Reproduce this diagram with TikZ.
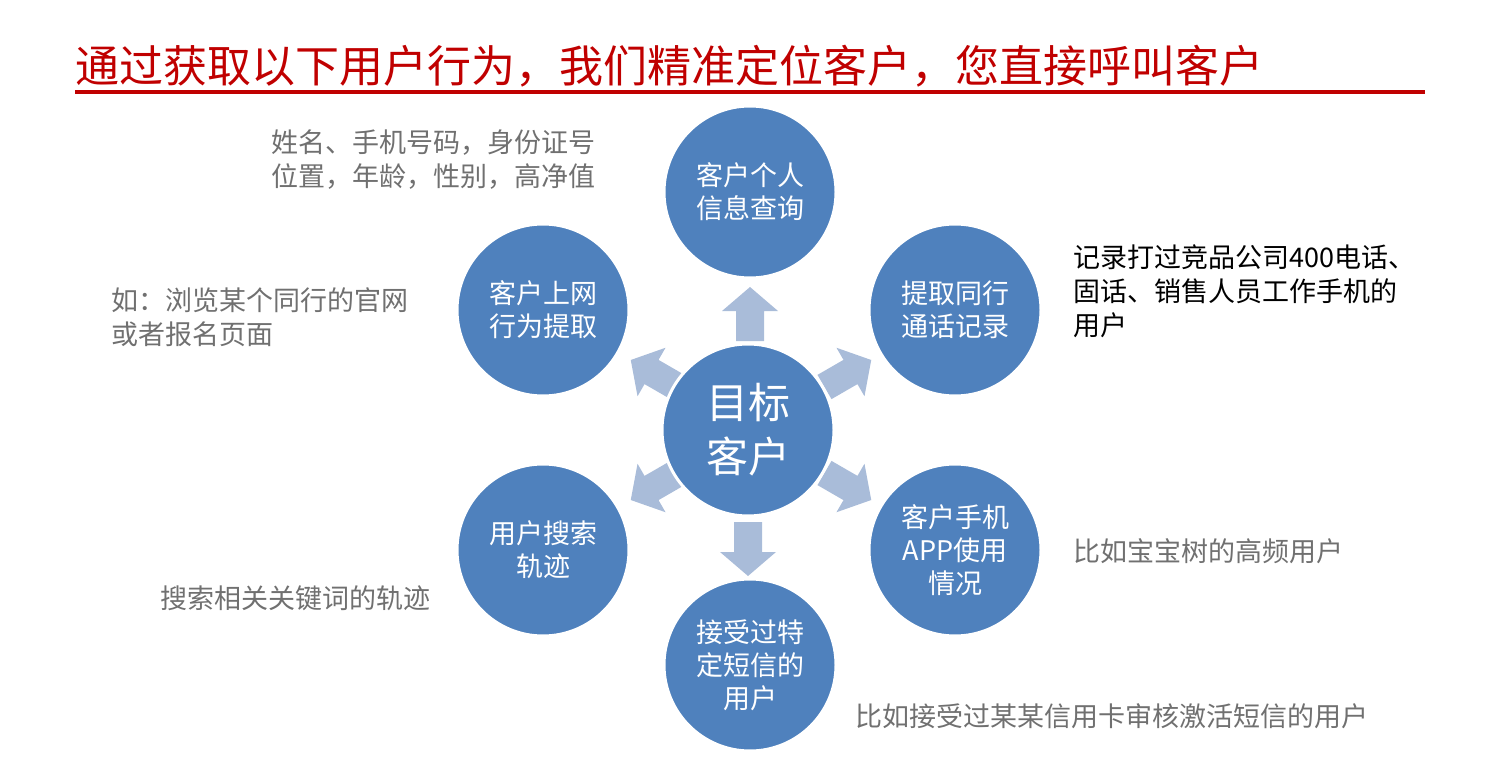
\documentclass[tikz,border=0pt]{standalone}
\usepackage{fontspec}
\setmainfont{Noto Sans CJK SC}
\definecolor{ballblue}{HTML}{4F81BD}
\definecolor{arrblue}{HTML}{A9BCD9}
\definecolor{titlered}{HTML}{C00000}
\definecolor{notegray}{HTML}{707070}
\newcommand{\blockarrow}[3]{% x, y, angle
  \fill[arrblue, shift={(#1,#2)}, rotate=#3] (-26,-14) -- (4,-14) -- (4,-28) -- (28,0) -- (4,28) -- (4,14) -- (-26,14) -- cycle;}
\tikzset{
  ball/.style={circle, draw=white, line width=3pt, fill=ballblue, minimum size=172pt, text=white, font=\fontsize{27}{33}\selectfont, align=center},
  note/.style={anchor=west, text=notegray, font=\fontsize{27}{34}\selectfont, align=left},
  blacknote/.style={note, text=black}
}
\begin{document}
\begin{tikzpicture}[x=1pt, y=-1pt]
	\useasboundingbox (0,0) rectangle (1500,778);
	\node[anchor=west, text=titlered, font=\fontsize{44}{48}\selectfont] (title) at (72,66) {通过获取以下用户行为，我们精准定位客户，您直接呼叫客户};
	\draw[titlered, line width=4pt] (75,92) -- (1425,92);
	% arrows around the centre
	\blockarrow{750}{315}{90}
	\blockarrow{748}{548}{-90}
	\blockarrow{655}{374}{150}
	\blockarrow{847}{374}{30}
	\blockarrow{655}{486}{-150}
	\blockarrow{847}{486}{-30}
	% circles
	\node[ball, font=\fontsize{42}{54}\selectfont] (target) at (748,430) {目标\\客户};
	\node[ball] (personal) at (750,192) {客户个人\\信息查询};
	\node[ball] (online) at (543,310) {客户上网\\行为提取};
	\node[ball] (calls) at (955,310) {提取同行\\通话记录};
	\node[ball] (search) at (543,550) {用户搜索\\轨迹};
	\node[ball] (app) at (955,550) {客户手机\\APP使用\\情况};
	\node[ball] (sms) at (750,665) {接受过特\\定短信的\\用户};
	% notes
	\node[note] (personalNote) at (268,160) {姓名、手机号码，身份证号\\位置，年龄，性别，高净值};
	\node[note] (onlineNote) at (108,317) {如：浏览某个同行的官网\\或者报名页面};
	\node[blacknote] (callsNote) at (1070,291) {记录打过竞品公司400电话、\\固话、销售人员工作手机的\\用户};
	\node[note] (searchNote) at (157,598) {搜索相关关键词的轨迹};
	\node[note] (appNote) at (1070,551) {比如宝宝树的高频用户};
	\node[note] (smsNote) at (852,716) {比如接受过某某信用卡审核激活短信的用户};
\end{tikzpicture}
\end{document}
